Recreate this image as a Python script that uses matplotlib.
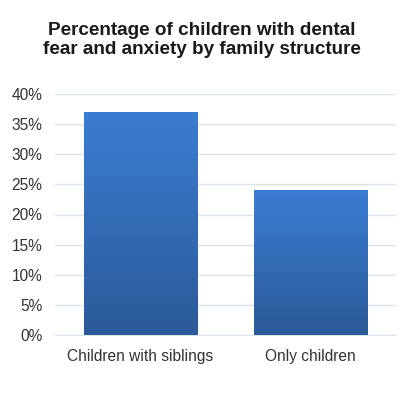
import numpy as np
import matplotlib.pyplot as plt
from matplotlib.colors import LinearSegmentedColormap

plt.rcParams['font.family'] = ['Liberation Sans', 'DejaVu Sans']

categories = ["Children with siblings", "Only children"]
values = [37, 24]
yticks = [0, 5, 10, 15, 20, 25, 30, 35, 40]

fig = plt.figure(figsize=(4, 4), dpi=100)
ax = fig.add_axes([0.1375, 0.1625, 0.8525, 0.6025])

bars = ax.bar(range(len(categories)), values, width=0.665, color='none', zorder=3)

# vertical gradient for each bar (lighter at top, darker at bottom)
cmap = LinearSegmentedColormap.from_list('bar', ['#2b5a98', '#3b7dd3'])
grad = np.linspace(0, 1, 256).reshape(-1, 1)
for b in bars:
    x0, y0 = b.get_x(), b.get_y()
    w, h = b.get_width(), b.get_height()
    im = ax.imshow(grad, cmap=cmap, origin='lower', aspect='auto',
                   extent=[x0, x0 + w, y0, y0 + h], zorder=3)
    im.set_clip_path(b)

ax.set_xlim(-0.5, 1.5)
ax.set_ylim(0, 40)
ax.set_yticks(yticks)
ax.set_yticklabels([f"{t}%" for t in yticks])
ax.set_xticks(range(len(categories)))
ax.set_xticklabels(categories)

ax.yaxis.grid(True, color='#dde3ea', linewidth=1, zorder=0)
ax.set_axisbelow(True)
for s in ['top', 'right', 'left']:
    ax.spines[s].set_visible(False)
ax.spines['bottom'].set_color('#dde3ea')
ax.tick_params(axis='both', length=0, labelsize=11.2, colors='#333333')
ax.tick_params(axis='x', pad=10)
ax.tick_params(axis='y', pad=9)

fig.text(0.505, 0.9, "Percentage of children with dental\nfear and anxiety by family structure",
         ha='center', va='center', fontsize=13.6, fontweight='bold', color='#1a1a1a',
         linespacing=1.15)

fig.savefig('out.png', dpi=100)
